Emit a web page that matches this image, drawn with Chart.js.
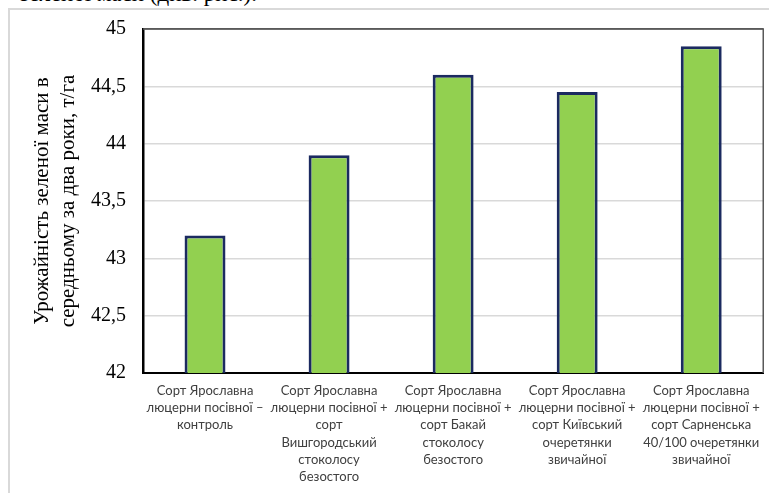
<!DOCTYPE html>
<html>
<head>
<meta charset="utf-8">
<script src="https://cdn.jsdelivr.net/npm/chart.js@4/dist/chart.umd.min.js"></script>
<style>
  body { margin: 0; width: 769px; height: 493px; overflow: hidden; background: #fff; position: relative; }
  .above { position: absolute; left: 20px; top: -19px; font: 23px "Liberation Serif", serif; color: #000; white-space: nowrap; }
  .frame { position: absolute; left: 8px; top: 8px; width: 820px; height: 600px; border: 2px solid #d9d9d9; box-sizing: border-box; }
  .wrap { position: absolute; left: 0; top: 0; width: 769px; height: 493px; }
</style>
</head>
<body>
<div class="above">зеленої маси (див. рис.).</div>
<div class="frame"></div>
<div class="wrap"><canvas id="chart"></canvas></div>
<script>
const categories = [
  ["Сорт Ярославна", "люцерни посівної –", "контроль"],
  ["Сорт Ярославна", "люцерни посівної +", "сорт", "Вишгородський", "стоколосу", "безостого"],
  ["Сорт Ярославна", "люцерни посівної +", "сорт Бакай", "стоколосу", "безостого"],
  ["Сорт Ярославна", "люцерни посівної +", "сорт Київський", "очеретянки", "звичайної"],
  ["Сорт Ярославна", "люцерни посівної +", "сорт Сарненська", "40/100 очеретянки", "звичайної"]
];
const yieldValues = [43.2, 43.9, 44.6, 44.45, 44.85];
const yMin = 42;
const yMax = 45;
const yStep = 0.5;
const yTitle = ["Урожайність зеленої маси в", "середньому за два роки, т/га"];

// thin dark border on the top and right of the plot
const plotFrame = {
  id: "plotFrame",
  afterDraw(chart) {
    const { ctx, chartArea } = chart;
    ctx.save();
    ctx.strokeStyle = "#595959";
    ctx.lineWidth = 1.5;
    ctx.beginPath();
    ctx.moveTo(chartArea.left, chartArea.top);
    ctx.lineTo(chartArea.right, chartArea.top);
    ctx.lineTo(chartArea.right, chartArea.bottom);
    ctx.stroke();
    ctx.restore();
  }
};

new Chart(document.getElementById("chart"), {
  type: "bar",
  data: {
    labels: categories,
    datasets: [{
      data: yieldValues,
      backgroundColor: "#92d050",
      borderColor: "#1b2a60",
      borderWidth: 3,
      borderSkipped: "start",
      categoryPercentage: 1,
      barPercentage: 0.33
    }]
  },
  options: {
    responsive: true,
    maintainAspectRatio: false,
    animation: false,
    layout: { padding: { top: 29, right: 3, left: 0, bottom: 0 } },
    plugins: {
      legend: { display: false },
      tooltip: { enabled: false }
    },
    scales: {
      x: {
        grid: { display: false, drawTicks: false },
        border: { display: true, color: "#000", width: 2 },
        ticks: {
          autoSkip: false,
          maxRotation: 0,
          minRotation: 0,
          padding: 9,
          color: "#404040",
          font: { family: "Lato", size: 13, lineHeight: 1.33 }
        },
        afterFit(scale) { scale.height = 120; }
      },
      y: {
        min: yMin,
        max: yMax,
        grid: {
          drawTicks: false,
          color: (c) => c.tick && c.tick.value === yMax ? "#595959" : "#d9d9d9",
          lineWidth: 1.5
        },
        border: { display: true, color: "#000", width: 2.5 },
        ticks: {
          stepSize: yStep,
          padding: 17,
          color: "#000",
          font: { family: "Liberation Serif", size: 20 },
          callback: (v) => String(v).replace(".", ",")
        },
        title: {
          display: true,
          text: yTitle,
          color: "#000",
          padding: { top: 29, bottom: 0 },
          font: { family: "Liberation Serif", size: 21, lineHeight: 1.24 }
        },
        afterFit(scale) { scale.width = 143; }
      }
    }
  },
  plugins: [plotFrame]
});
</script>
</body>
</html>
